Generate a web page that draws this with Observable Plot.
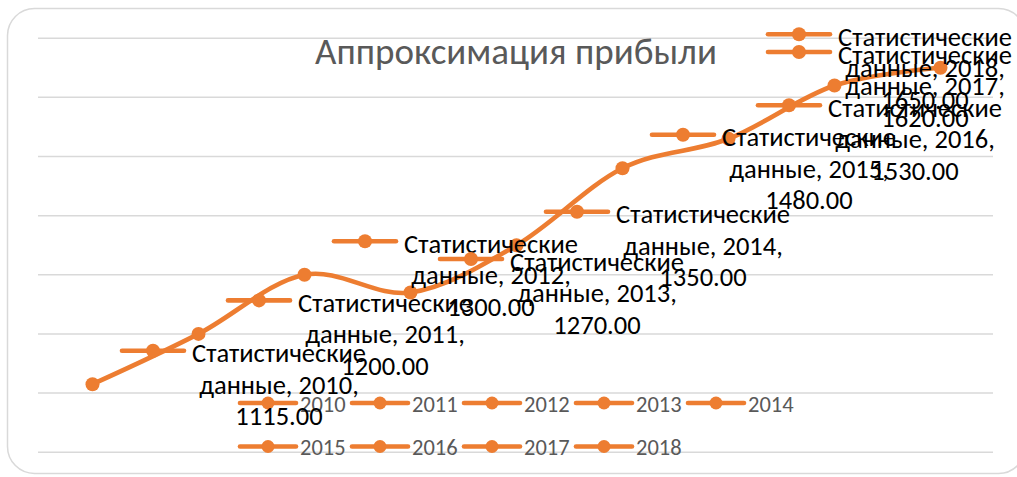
<!DOCTYPE html>
<html>
<head>
<meta charset="utf-8">
<script src="https://cdn.jsdelivr.net/npm/d3@7"></script>
<script src="https://cdn.jsdelivr.net/npm/@observablehq/plot@0.6"></script>
<style>
  html, body { margin: 0; padding: 0; background: #fff; }
  #chart { width: 1017px; height: 477px; overflow: hidden; }
  svg { overflow: visible; }
</style>
</head>
<body>
<div id="chart"></div>
<script>
// ---- data ----
const years = [2010, 2011, 2012, 2013, 2014, 2015, 2016, 2017, 2018];
const profit = [1115, 1200, 1300, 1270, 1350, 1480, 1530, 1620, 1650];
const gridValues = [1000, 1100, 1200, 1300, 1400, 1500, 1600, 1700];
const chartTitle = "Аппроксимация прибыли";
const seriesWords = ["Статистические", "данные"];

// ---- styles ----
const ORANGE = "#ED7D31";
const GRID = "#D9D9D9";
const GREY = "#595959";
const FONT = "Carlito, 'Liberation Sans', Arial, sans-serif";

const data = years.map((year, i) => ({year, value: profit[i]}));

// key glyph: line with a dot in the middle
function drawKey(g, x0, y, len, r) {
  g.append("line").attr("x1", x0).attr("x2", x0 + len).attr("y1", y).attr("y2", y)
    .attr("stroke", ORANGE).attr("stroke-width", 4.6).attr("stroke-linecap", "round");
  g.append("circle").attr("cx", x0 + len / 2).attr("cy", y).attr("r", r).attr("fill", ORANGE);
}

// data labels (key + 3 text lines) placed to the right of each point
function labelsMark(index, scales, values, dimensions) {
  const g = d3.create("svg:g");
  const plotRight = dimensions.width - dimensions.marginRight;
  for (const d of data) {
    const px = scales.x(d.year), py = scales.y(d.value);
    const keyX = Math.min(px + 30, plotRight - 225);
    drawKey(g, keyX, py - 33, 62, 7);
    const cx = keyX + 62 + 95;
    const lines = [seriesWords[0], `${seriesWords[1]}, ${d.year},`, d.value.toFixed(2)];
    lines.forEach((t, i) => {
      g.append("text").attr("x", cx).attr("y", py + 1 + (i - 1) * 31.5)
        .attr("text-anchor", "middle").attr("dominant-baseline", "central")
        .attr("font-family", FONT).attr("font-size", 26.5).attr("fill", "#000").text(t);
    });
  }
  return g.node();
}

// bottom legend and frame
function legendMark(index, scales, values, dimensions) {
  const g = d3.create("svg:g");
  g.append("rect").attr("x", 7.5).attr("y", 8.5).attr("width", 1018).attr("height", 465)
    .attr("rx", 27).attr("fill", "none").attr("stroke", GRID).attr("stroke-width", 1.5);
  const perRow = 5;
  years.forEach((yr, i) => {
    const row = Math.floor(i / perRow), col = i % perRow;
    const x0 = 240 + col * 112, y = 403 + row * 43.5;
    drawKey(g, x0, y, 56, 6.5);
    g.append("text").attr("x", x0 + 60).attr("y", y + 1)
      .attr("text-anchor", "start")
      .attr("dominant-baseline", "central").attr("font-family", FONT)
      .attr("font-size", 22.5).attr("fill", GREY).text(String(yr));
  });
  return g.node();
}

const chart = Plot.plot({
  width: 1017,
  height: 477,
  marginLeft: 38,
  marginRight: 24,
  marginTop: 37.7,
  marginBottom: 25.3,
  style: {background: "transparent", fontFamily: FONT},
  x: {type: "point", domain: years, padding: 0.5, axis: null},
  y: {domain: [1000, 1700], axis: null},
  marks: [
    Plot.ruleY(gridValues, {stroke: GRID, strokeWidth: 1.5}),
    legendMark,
    Plot.text([chartTitle], {frameAnchor: "top", lineAnchor: "middle", dy: 14, fontSize: 37, fill: GREY, fontFamily: FONT}),
    Plot.line(data, {x: "year", y: "value", curve: "cardinal", stroke: ORANGE, strokeWidth: 4.6, strokeLinecap: "round"}),
    Plot.dot(data, {x: "year", y: "value", r: 7, fill: ORANGE}),
    labelsMark
  ]
});

document.getElementById("chart").appendChild(chart);
</script>
</body>
</html>
